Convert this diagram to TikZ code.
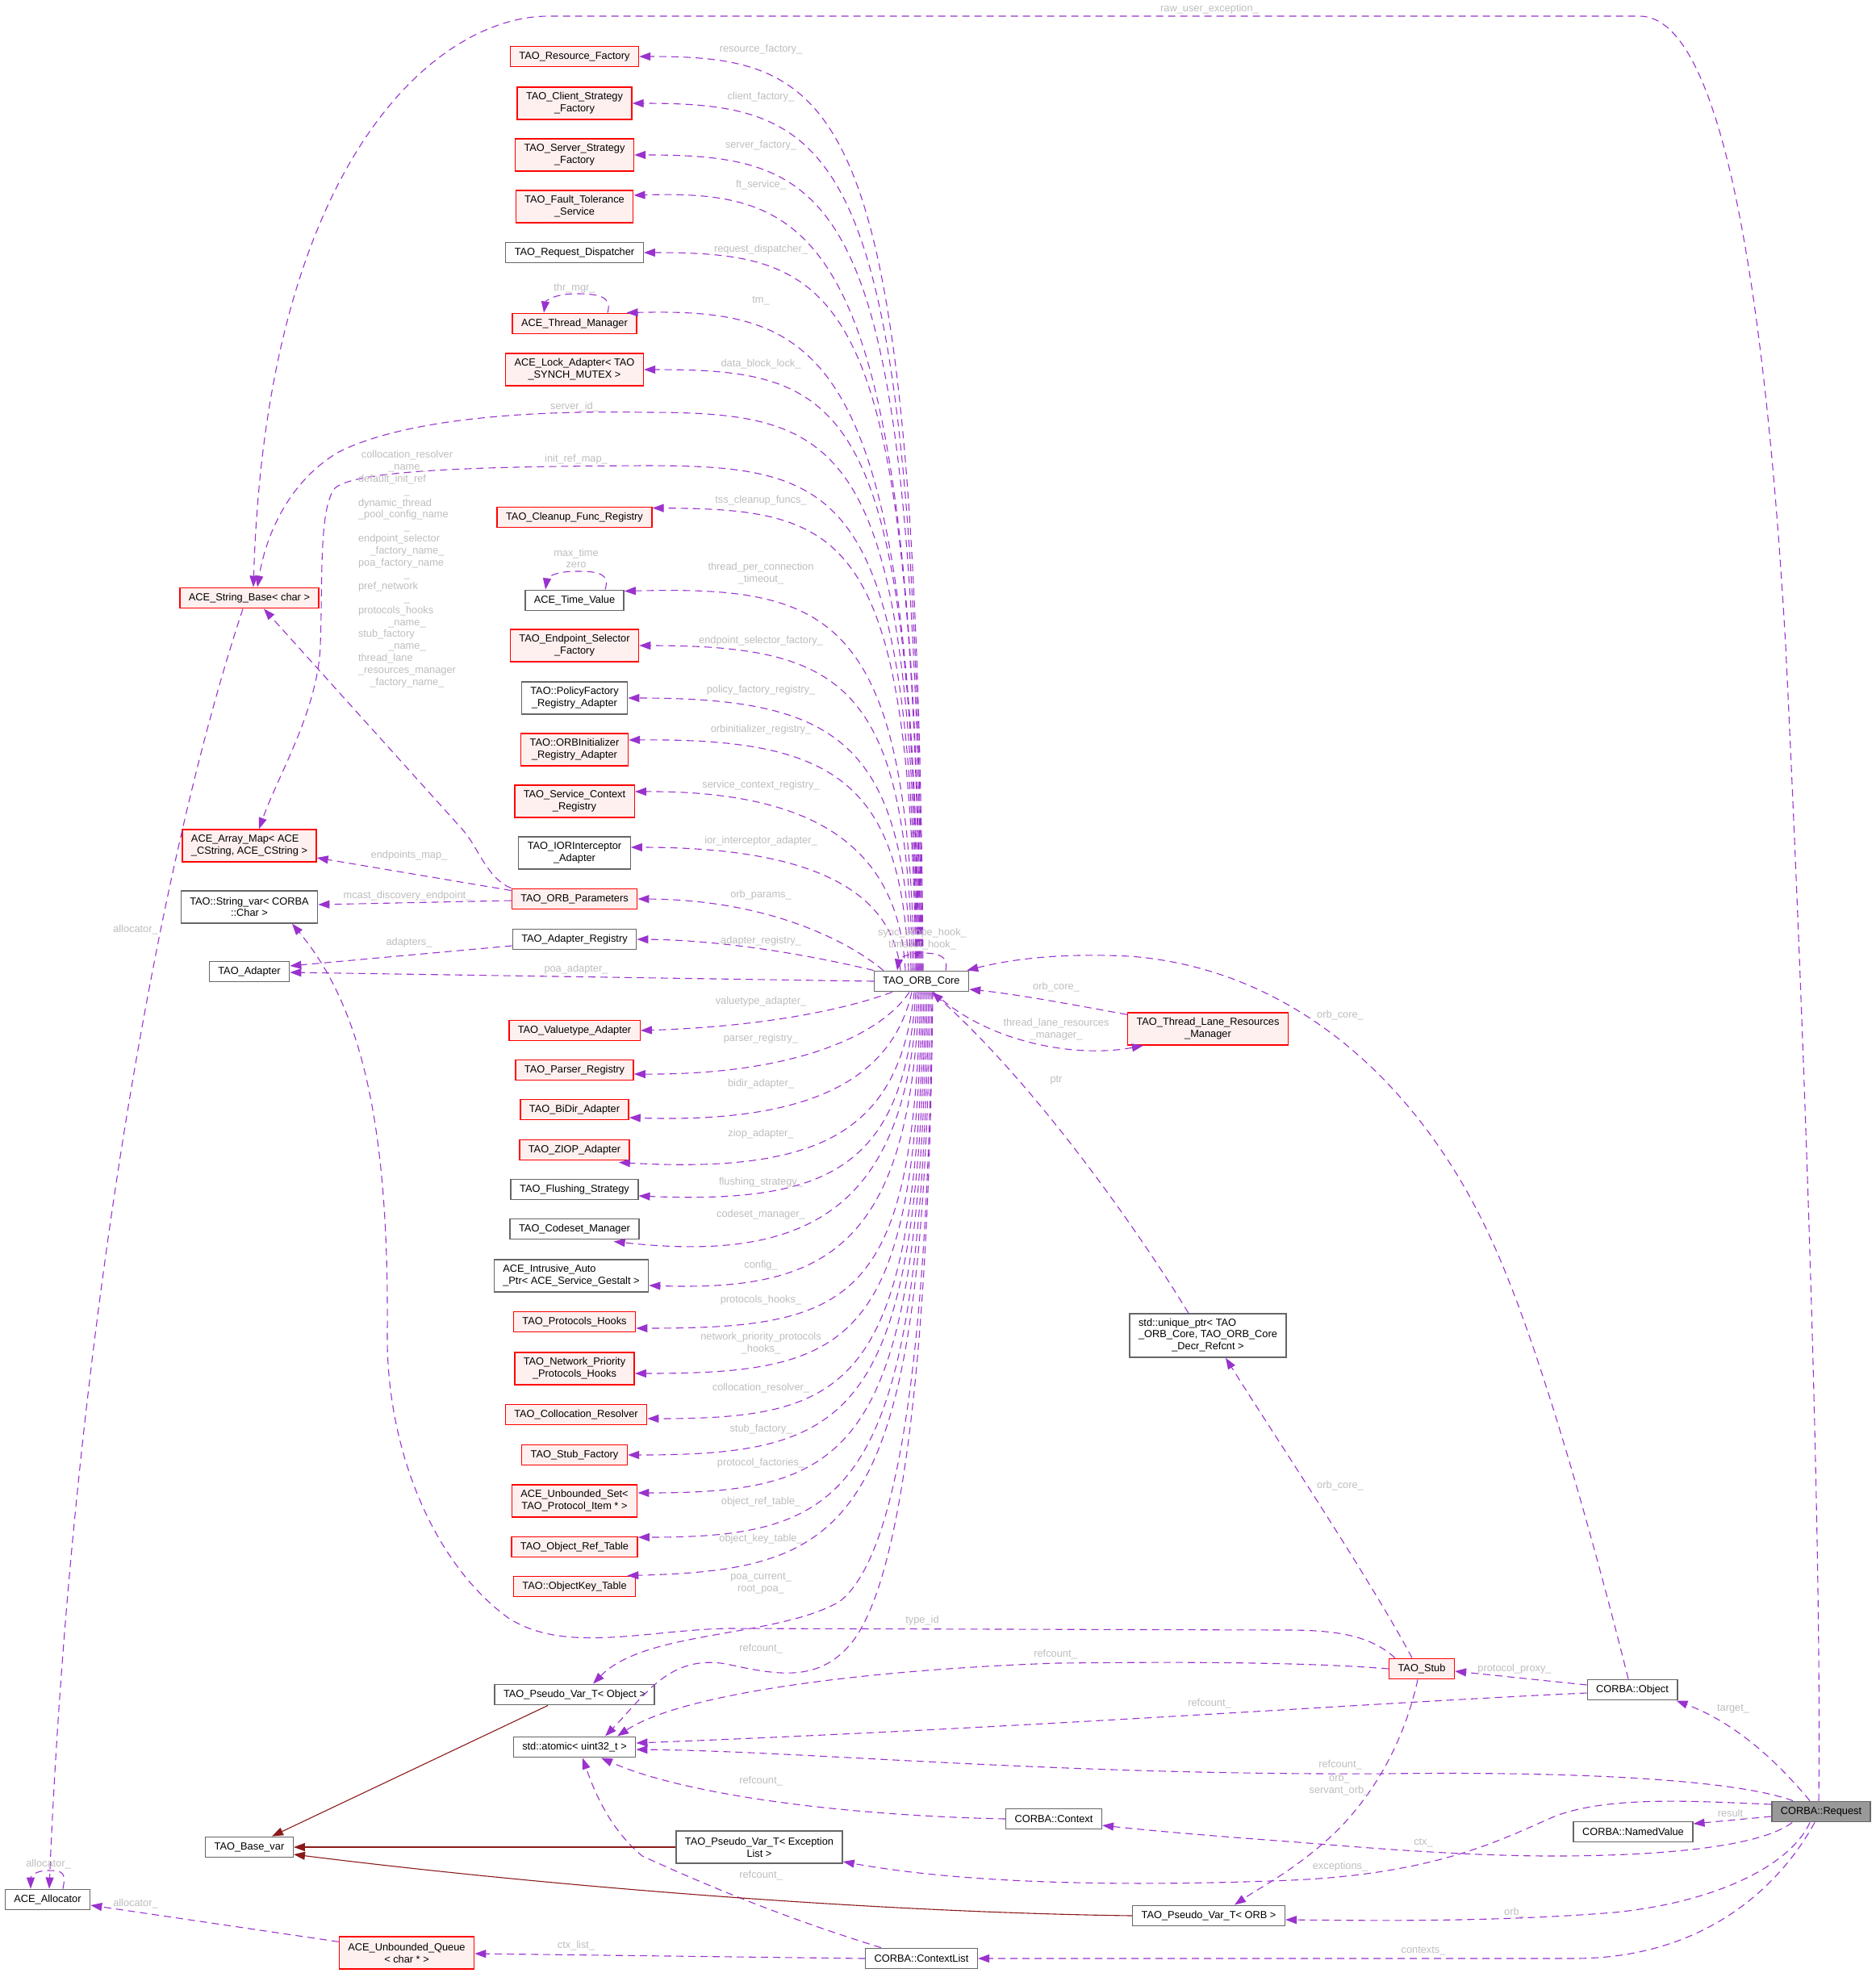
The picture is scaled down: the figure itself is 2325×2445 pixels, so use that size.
\documentclass[tikz,border=0pt]{standalone}
\usepackage{fontspec}
\setmainfont{Liberation Sans}
\usetikzlibrary{arrows.meta,calc}
\definecolor{edgec}{HTML}{9A32CD}
\definecolor{lblc}{HTML}{BDBDBD}
\definecolor{redb}{HTML}{FF0000}
\definecolor{redf}{HTML}{FFF0F0}
\definecolor{grayb}{HTML}{666666}
\definecolor{rootf}{HTML}{999999}
\definecolor{inhc}{HTML}{8B1A1A}
\newcommand\fs{\fontsize{12.8}{14.8}\selectfont}
\tikzset{
 box/.style={draw, line width=1.4pt, inner xsep=11pt, inner ysep=0pt, minimum height=25.5pt, font=\fs, align=center},
 rbox/.style={box, draw=redb, fill=redf},
 gbox/.style={box, draw=grayb, fill=white},
 rootbox/.style={box, draw=grayb, fill=rootf},
 two/.style={minimum height=40pt},
 three/.style={minimum height=54pt},
 dep/.style={draw=edgec, line width=1.1pt, dash pattern=on 9pt off 6pt, -{Triangle[length=14pt,width=10pt]}},
 inhe/.style={draw=inhc, line width=1.1pt, -{Triangle[length=14pt,width=10pt]}},
 lbl/.style={text=lblc, font=\fs, inner sep=0pt, align=center},
}
\begin{document}
\begin{tikzpicture}[x=1pt,y=-1pt]
\useasboundingbox (0,0) rectangle (2325,2445);
% ---------- nodes ----------
\node[rbox] (resf) at (712,70) {TAO\_Resource\_Factory};
\node[rbox,two] (clif) at (712,128) {TAO\_Client\_Strategy\\\_Factory};
\node[rbox,two] (serf) at (712,192) {TAO\_Server\_Strategy\\\_Factory};
\node[rbox,two] (ftsv) at (712,256) {TAO\_Fault\_Tolerance\\\_Service};
\node[gbox] (rqd) at (712,313) {TAO\_Request\_Dispatcher};
\node[rbox] (thrm) at (712,401) {ACE\_Thread\_Manager};
\node[rbox,two] (lock) at (712,458) {ACE\_Lock\_Adapter< TAO\\\_SYNCH\_MUTEX >};
\node[rbox] (tcfr) at (712,641) {TAO\_Cleanup\_Func\_Registry};
\node[gbox] (timev) at (712,744) {ACE\_Time\_Value};
\node[rbox,two] (eps) at (712,800) {TAO\_Endpoint\_Selector\\\_Factory};
\node[gbox,two] (pfra) at (712,865) {TAO::PolicyFactory\\\_Registry\_Adapter};
\node[rbox,two] (orbi) at (712,929) {TAO::ORBInitializer\\\_Registry\_Adapter};
\node[rbox,two] (scr) at (712,993) {TAO\_Service\_Context\\\_Registry};
\node[gbox,two] (ior) at (712,1057) {TAO\_IORInterceptor\\\_Adapter};
\node[rbox] (orbp) at (712,1114) {TAO\_ORB\_Parameters};
\node[gbox] (adreg) at (712,1164) {TAO\_Adapter\_Registry};
\node[rbox] (vta) at (712,1277) {TAO\_Valuetype\_Adapter};
\node[rbox] (parr) at (712,1326) {TAO\_Parser\_Registry};
\node[rbox] (bidir) at (712,1375) {TAO\_BiDir\_Adapter};
\node[rbox] (ziop) at (712,1425) {TAO\_ZIOP\_Adapter};
\node[gbox] (flush) at (712,1474) {TAO\_Flushing\_Strategy};
\node[gbox] (cset) at (712,1523) {TAO\_Codeset\_Manager};
\node[gbox,two,align=left] (iap) at (708,1581) {ACE\_Intrusive\_Auto\\\_Ptr< ACE\_Service\_Gestalt >};
\node[rbox] (phk) at (712,1638) {TAO\_Protocols\_Hooks};
\node[rbox,two] (nph) at (712,1696) {TAO\_Network\_Priority\\\_Protocols\_Hooks};
\node[rbox] (colr) at (714,1753) {TAO\_Collocation\_Resolver};
\node[rbox] (stubf) at (712,1803) {TAO\_Stub\_Factory};
\node[rbox,two] (useti) at (712,1860) {ACE\_Unbounded\_Set<\\TAO\_Protocol\_Item * >};
\node[rbox] (ort) at (712,1917) {TAO\_Object\_Ref\_Table};
\node[rbox] (okt) at (712,1966) {TAO::ObjectKey\_Table};
\node[gbox] (pvo) at (712,2100) {TAO\_Pseudo\_Var\_T< Object >};
\node[gbox] (atom) at (712,2165) {std::atomic< uint32\_t >};
\node[rbox] (strb) at (309,741) {ACE\_String\_Base< char >};
\node[rbox,two,align=left] (arrmap) at (309,1048) {ACE\_Array\_Map< ACE\\\_CString, ACE\_CString >};
\node[gbox,two] (strv) at (309,1124) {TAO::String\_var< CORBA\\::Char >};
\node[gbox] (tada) at (309,1204) {TAO\_Adapter};
\node[gbox] (bv) at (309,2289) {TAO\_Base\_var};
\node[gbox] (alloc) at (59,2354) {ACE\_Allocator};
\node[rbox,two] (uq) at (504,2420) {ACE\_Unbounded\_Queue\\< char * >};
\node[gbox] (core) at (1142,1216) {TAO\_ORB\_Core};
\node[rbox,two] (tlrm) at (1497,1275) {TAO\_Thread\_Lane\_Resources\\\_Manager};
\node[gbox,three] (uptr) at (1497,1655) {\begin{tabular}{@{}l@{}}std::unique\_ptr< TAO\\\_ORB\_Core, TAO\_ORB\_Core\\\multicolumn{1}{@{}c@{}}{\_Decr\_Refcnt >}\end{tabular}};
\node[gbox] (ctx) at (1306,2254) {CORBA::Context};
\node[gbox,two] (pve) at (941,2289) {TAO\_Pseudo\_Var\_T< Exception\\List >};
\node[gbox] (pvorb) at (1498,2374) {TAO\_Pseudo\_Var\_T< ORB >};
\node[gbox] (ctxl) at (1142,2427) {CORBA::ContextList};
\node[rbox] (stub) at (1762,2068) {TAO\_Stub};
\node[gbox] (obj) at (2023,2094) {CORBA::Object};
\node[rootbox] (req) at (2257,2245) {CORBA::Request};
\node[gbox] (nv) at (2024,2270) {CORBA::NamedValue};
% ---------- edges from core, upper ----------
\draw[dep] ($(core.north)+(2,0)$) .. controls (1136,127) and (1050,70) .. (resf.east);
\draw[dep] ($(core.north)+(1,0)$) .. controls (1135,182) and (1050,128) .. (clif.east);
\draw[dep] ($(core.north)+(0,0)$) .. controls (1134,243) and (1050,192) .. (serf.east);
\draw[dep] ($(core.north)+(-1,0)$) .. controls (1133,290) and (1020,235) .. ($(ftsv.east)+(0,-14)$);
\draw[dep] ($(core.north)+(-2,0)$) .. controls (1132,358) and (1050,313) .. (rqd.east);
\draw[dep] ($(core.north)+(-3,0)$) .. controls (1131,429) and (1020,382) .. ($(thrm.north east)+(-13,0)$);
\draw[dep] ($(core.north)+(-4,0)$) .. controls (1130,495) and (1050,458) .. (lock.east);
\draw[dep] ($(core.north)+(-5,0)$) .. controls (1129,546) and (1050,511) .. (800,511) .. controls (650,508) and (500,520) .. (420,560) .. controls (360,595) and (330,660) .. ($(strb.north)+(10,0)$);
\draw[dep] ($(core.north)+(-6,0)$) .. controls (1128,608) and (1050,577) .. (800,577) .. controls (600,578) and (440,582) .. (415,605) .. controls (395,630) and (400,720) .. (397,800) .. controls (394,880) and (345,960) .. ($(arrmap.north)+(12,0)$);
\draw[dep] ($(core.north)+(-7,0)$) .. controls (1127,660) and (1050,631) .. ($(tcfr.north east)+(0,2)$);
\draw[dep] ($(core.north)+(-9,0)$) .. controls (1125,760) and (1030,726) .. ($(timev.north east)+(0,2)$);
\draw[dep] ($(core.north)+(-11,0)$) .. controls (1123,850) and (1050,800) .. (eps.east);
\draw[dep] ($(core.north)+(-13,0)$) .. controls (1121,920) and (1040,865) .. (pfra.east);
\draw[dep] ($(core.north)+(-16,0)$) .. controls (1118,965) and (1030,915) .. ($(orbi.east)+(0,-12)$);
\draw[dep] ($(core.north)+(-20,0)$) .. controls (1114,1050) and (1010,980) .. ($(scr.east)+(0,-12)$);
\draw[dep] ($(core.north)+(-26,0)$) .. controls (1105,1100) and (1000,1050) .. ($(ior.east)+(0,-7)$);
\draw[dep] ($(core.north west)+(12,0)$) .. controls (1050,1165) and (950,1115) .. (orbp.east);
\draw[dep] (core.north west) .. controls (1010,1185) and (900,1165) .. (adreg.east);
\draw[dep] (core.west) -- ($(tada.east)+(0,1)$);
% ---------- edges from core, lower ----------
\draw[dep] ($(core.south west)+(23,0)$) .. controls (1050,1250) and (950,1272) .. (vta.east);
\draw[dep] ($(core.south)+(-15,0)$) .. controls (1090,1285) and (980,1332) .. ($(parr.east)+(0,5)$);
\draw[dep] ($(core.south)+(-12,0)$) .. controls (1105,1340) and (1000,1392) .. ($(bidir.east)+(0,10)$);
\draw[dep] ($(core.south)+(-9,0)$) .. controls (1115,1400) and (1020,1455) .. ($(ziop.south east)+(-14,2)$);
\draw[dep] ($(core.south)+(-7,0)$) .. controls (1120,1445) and (1030,1492) .. ($(flush.east)+(0,8)$);
\draw[dep] ($(core.south)+(-5,0)$) .. controls (1125,1500) and (1000,1565) .. ($(cset.south east)+(-32,2)$);
\draw[dep] ($(core.south)+(-3,0)$) .. controls (1128,1550) and (1020,1600) .. ($(iap.east)+(0,12)$);
\draw[dep] ($(core.south)+(-1,0)$) .. controls (1131,1613) and (1060,1646) .. ($(phk.east)+(0,8)$);
\draw[dep] ($(core.south)+(1,0)$) .. controls (1133,1665) and (1060,1702) .. ($(nph.east)+(0,6)$);
\draw[dep] ($(core.south)+(3,0)$) .. controls (1135,1717) and (1060,1758) .. ($(colr.east)+(0,5)$);
\draw[dep] ($(core.south)+(5,0)$) .. controls (1137,1757) and (1060,1803) .. (stubf.east);
\draw[dep] ($(core.south)+(7,0)$) .. controls (1139,1800) and (1060,1850) .. ($(useti.east)+(0,-10)$);
\draw[dep] ($(core.south)+(9,0)$) .. controls (1141,1850) and (1060,1905) .. ($(ort.east)+(0,-12)$);
\draw[dep] ($(core.south)+(11,0)$) .. controls (1143,1893) and (1060,1945) .. ($(okt.north east)+(-11,0)$);
\draw[dep] ($(core.south)+(13,0)$) .. controls (1150,1750) and (1100,1940) .. (1040,1985) .. controls (960,2030) and (800,2020) .. ($(pvo.north)+(23,0)$);
\draw[dep] ($(core.south)+(14,0)$) .. controls (1150,1850) and (1090,2000) .. (1050,2042) .. controls (1010,2085) and (960,2075) .. (900,2062) .. controls (830,2050) and (800,2100) .. ($(atom.north)+(38,0)$);
% core self loop
\draw[dep] ($(core.north)+(30,0)$) .. controls +(4,-18) and +(20,0) .. (1143,1181) .. controls +(-20,0) and +(2,-14) .. ($(core.north)+(-30,0)$);
% other loops
\draw[dep] ($(thrm.north)+(41,0)$) .. controls +(6,-20) and +(28,0) .. (714,364) .. controls +(-28,0) and +(2,-14) .. ($(thrm.north)+(-38,0)$);
\draw[dep] ($(timev.north)+(38,0)$) .. controls +(6,-20) and +(28,0) .. (714,708) .. controls +(-28,0) and +(2,-14) .. ($(timev.north)+(-36,0)$);
\draw[dep] ($(alloc.north)+(19,0)$) .. controls +(4,-20) and +(18,0) .. (60,2318) .. controls +(-18,0) and +(0,-14) .. ($(alloc.north)+(-21,0)$);
% thread lane
\draw[dep] ($(tlrm.north west)+(0,3)$) .. controls (1330,1245) and (1260,1232) .. ($(core.east)+(0,10)$);
\draw[dep] ($(core.south)+(15,0)$) .. controls (1220,1290) and (1330,1312) .. ($(tlrm.south west)+(20,0)$);
% unique ptr
\draw[dep] ($(uptr.north)+(-24,0)$) .. controls (1420,1540) and (1290,1350) .. ($(core.south)+(13,0)$);
\draw[dep] ($(stub.north)+(-12,0)$) .. controls (1700,1960) and (1580,1780) .. ($(uptr.south)+(22,0)$);
% object
\draw[dep] ($(obj.north)+(-5,0)$) .. controls (1960,1850) and (1900,1650) .. (1850,1540) .. controls (1760,1340) and (1600,1200) .. (1400,1185) .. controls (1300,1180) and (1240,1192) .. ($(core.north east)+(-3,0)$);
\draw[dep] ($(obj.west)+(0,-6)$) -- ($(stub.east)+(0,3)$);
\draw[dep] ($(obj.west)+(0,4)$) .. controls (1700,2110) and (1300,2140) .. ($(atom.east)+(0,-5)$);
% stub
\draw[dep] ($(stub.north west)+(8,0)$) .. controls (1700,2028) and (1660,2020) .. (1596,2020) -- (902,2018) .. controls (800,2020) and (700,2050) .. (630,2005) .. controls (540,1940) and (478,1800) .. (480,1650) .. controls (482,1400) and (450,1250) .. ($(strv.south)+(53,0)$);
\draw[dep] (stub.west) .. controls (1600,2058) and (1400,2060) .. (1310,2061) .. controls (1100,2068) and (850,2095) .. ($(atom.north)+(53,0)$);
\draw[dep] ($(stub.south)+(-5,0)$) .. controls (1740,2160) and (1700,2230) .. (1646,2279) .. controls (1600,2320) and (1560,2340) .. ($(pvorb.north)+(32,0)$);
% request
\draw[dep] ($(req.north)+(-3,0)$) .. controls (2258,1900) and (2235,1250) .. (2213,800) .. controls (2190,400) and (2140,20) .. (2032,20) -- (680,20) .. controls (540,20) and (330,200) .. ($(strb.north)+(5,0)$);
\draw[dep] ($(req.north)+(-14,0)$) .. controls (2200,2180) and (2150,2135) .. ($(obj.south east)+(-2,0)$);
\draw[dep] ($(req.north west)+(27,0)$) .. controls (2150,2205) and (1950,2195) .. (1716,2198) .. controls (1300,2200) and (1000,2170) .. ($(atom.east)+(0,3)$);
\draw[dep] ($(req.west)+(0,6)$) -- ($(nv.east)+(0,-10)$);
\draw[dep] ($(req.west)+(0,-9)$) .. controls (2100,2232) and (1990,2225) .. (1924,2252) .. controls (1860,2280) and (1780,2322) .. (1600,2330) .. controls (1400,2338) and (1200,2335) .. ($(pve.east)+(0,18)$);
\draw[dep] ($(req.south west)+(26,0)$) .. controls (2180,2290) and (2050,2300) .. (1924,2300) .. controls (1800,2300) and (1650,2286) .. (1596,2282) .. controls (1500,2275) and (1420,2268) .. ($(ctx.east)+(0,8)$);
\draw[dep] ($(req.south)+(-14,0)$) .. controls (2220,2310) and (2130,2357) .. (2000,2370) .. controls (1850,2382) and (1700,2380) .. ($(pvorb.east)+(0,5)$);
\draw[dep] ($(req.south)+(-8,0)$) .. controls (2210,2330) and (2120,2427) .. (1950,2427) -- (ctxl.east);
% context, contextlist
\draw[dep] (ctx.west) .. controls (1050,2250) and (850,2225) .. ($(atom.south)+(33,0)$);
\draw[dep] ($(ctxl.north west)+(20,0)$) .. controls (950,2370) and (840,2320) .. (796,2300) .. controls (760,2270) and (740,2230) .. ($(atom.south)+(10,0)$);
\draw[dep] (ctxl.west) -- ($(uq.east)+(0,1)$);
\draw[dep] ($(uq.north west)+(0,7)$) -- ($(alloc.east)+(0,7)$);
% left column
\draw[dep] ($(strb.south)+(-8,0)$) .. controls (180,1120) and (85,1750) .. ($(alloc.north)+(2,0)$);
\draw[dep] (orbp.north west) .. controls (605,1090) and (592,1050) .. (575,1030) -- ($(strb.south)+(18,0)$);
\draw[dep] ($(orbp.north west)+(0,3)$) -- ($(arrmap.east)+(0,15)$);
\draw[dep] ($(orbp.west)+(0,2)$) -- ($(strv.east)+(0,-3)$);
\draw[dep] ($(adreg.west)+(0,8)$) -- ($(tada.east)+(0,-7)$);
% inheritance
\draw[inhe] ($(pvo.south)+(-33,0)$) -- ($(bv.north)+(28,0)$);
\draw[inhe] (pve.west) -- (bv.east);
\draw[inhe] (pvorb.west) .. controls (1100,2370) and (700,2340) .. ($(bv.east)+(0,9)$);
% ---------- labels ----------
\node[lbl] (l1) at (1499,11) {raw\_user\_exception\_};
\node[lbl] (l2) at (943,61) {resource\_factory\_};
\node[lbl] (l3) at (943,120) {client\_factory\_};
\node[lbl] (l4) at (943,180) {server\_factory\_};
\node[lbl] (l5) at (943,229) {ft\_service\_};
\node[lbl] (l6) at (943,309) {request\_dispatcher\_};
\node[lbl] (l7) at (712,357) {thr\_mgr\_};
\node[lbl] (l8) at (943,373) {tm\_};
\node[lbl] (l9) at (943,451) {data\_block\_lock\_};
\node[lbl] (l10) at (712,504) {server\_id\_};
\node[lbl] (l11) at (714,569) {init\_ref\_map\_};
\node[lbl] (l12) at (943,620) {tss\_cleanup\_funcs\_};
\node[lbl] (l13) at (714,692) {max\_time\\zero};
\node[lbl] (l14) at (943,711) {thread\_per\_connection\\\_timeout\_};
\node[lbl] (l15) at (943,794) {endpoint\_selector\_factory\_};
\node[lbl] (l16) at (943,855) {policy\_factory\_registry\_};
\node[lbl] (l17) at (943,904) {orbinitializer\_registry\_};
\node[lbl] (l18) at (943,973) {service\_context\_registry\_};
\node[lbl] (l19) at (943,1042) {ior\_interceptor\_adapter\_};
\node[lbl] (l20) at (943,1109) {orb\_params\_};
\node[lbl] (l21) at (943,1166) {adapter\_registry\_};
\node[lbl] (l22) at (714,1201) {poa\_adapter\_};
\node[lbl] (l23) at (1143,1164) {sync\_scope\_hook\_\\timeout\_hook\_};
\node[lbl] (l24) at (943,1241) {valuetype\_adapter\_};
\node[lbl] (l25) at (943,1287) {parser\_registry\_};
\node[lbl] (l26) at (943,1343) {bidir\_adapter\_};
\node[lbl] (l27) at (943,1405) {ziop\_adapter\_};
\node[lbl] (l28) at (943,1465) {flushing\_strategy\_};
\node[lbl] (l29) at (943,1505) {codeset\_manager\_};
\node[lbl] (l30) at (943,1568) {config\_};
\node[lbl] (l31) at (943,1611) {protocols\_hooks\_};
\node[lbl] (l32) at (943,1665) {network\_priority\_protocols\\\_hooks\_};
\node[lbl] (l33) at (943,1720) {collocation\_resolver\_};
\node[lbl] (l34) at (943,1771) {stub\_factory\_};
\node[lbl] (l35) at (943,1813) {protocol\_factories\_};
\node[lbl] (l36) at (943,1861) {object\_ref\_table\_};
\node[lbl] (l37) at (943,1907) {object\_key\_table\_};
\node[lbl] (l38) at (943,1962) {poa\_current\_\\root\_poa\_};
\node[lbl] (l39) at (1143,2008) {type\_id};
\node[lbl] (l40) at (943,2043) {refcount\_};
\node[lbl] (l41) at (1308,2050) {refcount\_};
\node[lbl] (l42) at (1499,2111) {refcount\_};
\node[lbl] (l43) at (943,2207) {refcount\_};
\node[lbl] (l44) at (943,2324) {refcount\_};
\node[lbl] (l45) at (1661,2187) {refcount\_};
\node[lbl] (l46) at (1660,2212) {orb\_\\servant\_orb\_};
\node[lbl] (l47) at (2148,2248) {result\_};
\node[lbl] (l48) at (1764,2284) {ctx\_};
\node[lbl] (l49) at (1661,2313) {exceptions\_};
\node[lbl] (l50) at (1877,2370) {orb\_};
\node[lbl] (l51) at (1764,2418) {contexts\_};
\node[lbl] (l52) at (714,2411) {ctx\_list\_};
\node[lbl] (l53) at (168,2359) {allocator\_};
\node[lbl] (l54) at (60,2310) {allocator\_};
\node[lbl] (l55) at (168,1152) {allocator\_};
\node[lbl] (l56) at (1661,1841) {orb\_core\_};
\node[lbl] (l57) at (1877,2068) {protocol\_proxy\_};
\node[lbl] (l58) at (2148,2118) {target\_};
\node[lbl] (l59) at (1309,1223) {orb\_core\_};
\node[lbl] (l60) at (1309,1276) {thread\_lane\_resources\\\_manager\_};
\node[lbl] (l61) at (1309,1339) {ptr};
\node[lbl] (l62) at (1661,1258) {orb\_core\_};
\node[lbl] (l63) at (507,1060) {endpoints\_map\_};
\node[lbl] (l64) at (505,1110) {mcast\_discovery\_endpoint\_};
\node[lbl] (l65) at (507,1168) {adapters\_};
\node[lbl] (l66) at (504.5,705.5) {\begin{tabular}{@{}l@{}}
\multicolumn{1}{@{}c@{}}{collocation\_resolver}\\
\multicolumn{1}{@{}c@{}}{\_name\_}\\
default\_init\_ref\\
\multicolumn{1}{@{}c@{}}{\_}\\
dynamic\_thread\\
\_pool\_config\_name\\
\multicolumn{1}{@{}c@{}}{\_}\\
endpoint\_selector\\
\multicolumn{1}{@{}c@{}}{\_factory\_name\_}\\
poa\_factory\_name\\
\multicolumn{1}{@{}c@{}}{\_}\\
pref\_network\\
\multicolumn{1}{@{}c@{}}{\_}\\
protocols\_hooks\\
\multicolumn{1}{@{}c@{}}{\_name\_}\\
stub\_factory\\
\multicolumn{1}{@{}c@{}}{\_name\_}\\
thread\_lane\\
\multicolumn{1}{@{}c@{}}{\_resources\_manager}\\
\multicolumn{1}{@{}c@{}}{\_factory\_name\_}
\end{tabular}};
\end{tikzpicture}
\end{document}
